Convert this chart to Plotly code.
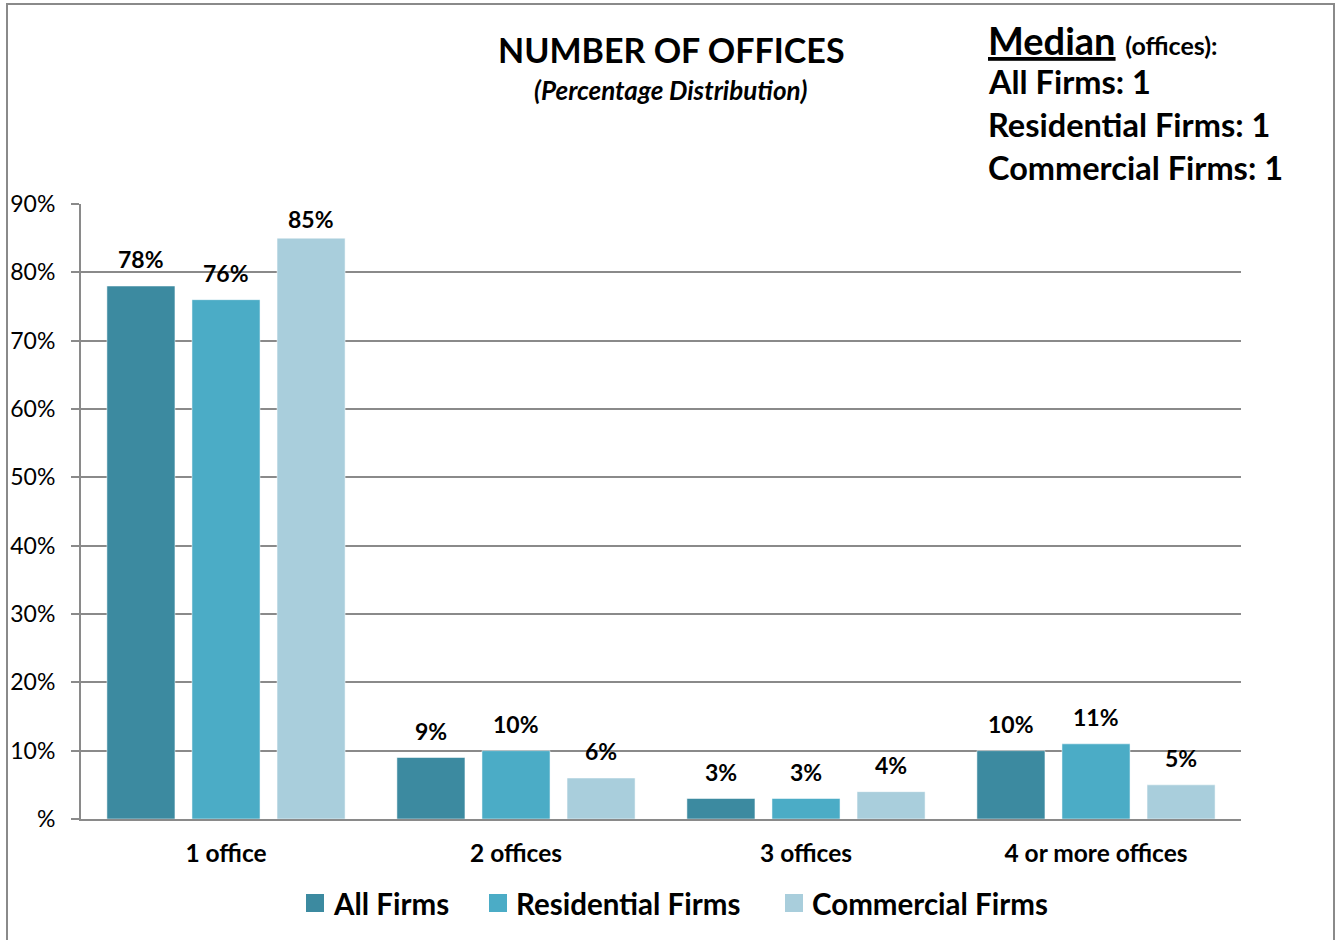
import plotly.graph_objects as go

# Share of firms by number of offices (percent)
categories = ["1 office", "2 offices", "3 offices", "4 or more offices"]
all_firms = [78, 9, 3, 10]
residential_firms = [76, 10, 3, 11]
commercial_firms = [85, 6, 4, 5]

series_names = ["All Firms", "Residential Firms", "Commercial Firms"]
series_values = [all_firms, residential_firms, commercial_firms]
series_colors = ["#3C8AA0", "#4BACC6", "#A9CEDC"]

y_tick_values = [0, 10, 20, 30, 40, 50, 60, 70, 80, 90]
y_tick_labels = ["%", "10%", "20%", "30%", "40%", "50%", "60%", "70%", "80%", "90%"]

median_lines = ["All Firms: 1", "Residential Firms: 1", "Commercial Firms: 1"]

FONT = "Lato"
W, H = 1336, 940
M_L, M_R, M_T, M_B = 81, 95, 204, 121
plot_w = W - M_L - M_R
plot_h = H - M_T - M_B
Y_MAX = 90
BAR_STEP = 85          # pixel distance between bar centres inside a group
LABEL_GAP = 27         # label centre above bar top, in pixels
LABEL_MIN_TOP = 15     # keep labels at least this far below the plot top


def px_x(x):
    return (x - M_L) / plot_w


def px_y(y):
    return (H - M_B - y) / plot_h


fig = go.Figure()
annotations = []
for s, (name, vals, color) in enumerate(zip(series_names, series_values, series_colors)):
    fig.add_trace(go.Bar(
        name=name,
        x=categories,
        y=vals,
        marker=dict(color=color, line=dict(color="rgba(255,255,255,0.5)", width=1)),
        showlegend=False,
    ))
    # value labels above each bar
    for cat, v in zip(categories, vals):
        top_from_plot_top = (Y_MAX - v) / Y_MAX * plot_h
        shift = min(LABEL_GAP, top_from_plot_top - LABEL_MIN_TOP)
        annotations.append(dict(
            text=f"<b>{v}%</b>", x=cat, y=v, xref="x", yref="y",
            xshift=(s - 1) * BAR_STEP, yshift=shift,
            showarrow=False, xanchor="center", yanchor="middle",
            font=dict(family=FONT, size=23, color="black")))

annotations += [
    dict(text="<b>NUMBER OF OFFICES</b>", x=px_x(671), y=px_y(50), xref="paper", yref="paper",
         showarrow=False, xanchor="center", yanchor="middle",
         font=dict(family=FONT, size=34, color="black")),
    dict(text="<b><i>(Percentage Distribution)</i></b>", x=px_x(671), y=px_y(90), xref="paper", yref="paper",
         showarrow=False, xanchor="center", yanchor="middle",
         font=dict(family=FONT, size=26, color="black")),
    dict(text="<b><u>Median</u></b> <b><span style='font-size:25px'>(offices):</span></b>",
         x=px_x(986), y=px_y(40), xref="paper", yref="paper",
         showarrow=False, xanchor="left", yanchor="middle",
         font=dict(family=FONT, size=38, color="black")),
]
for i, line in enumerate(median_lines):
    annotations.append(dict(
        text=f"<b>{line}</b>", x=px_x(986), y=px_y(82 + 42.5 * i), xref="paper", yref="paper",
        showarrow=False, xanchor="left", yanchor="middle",
        font=dict(family=FONT, size=32.5, color="black")))

# Outer frame of the chart
shapes = [dict(type="rect", xref="paper", yref="paper",
               x0=px_x(7), x1=px_x(1334), y0=px_y(960), y1=px_y(4),
               line=dict(color="#8a8a8a", width=2), fillcolor="rgba(0,0,0,0)", layer="below")]

# Legend row below the category labels: colour swatch + series name
legend_swatch_x = [306, 489, 785]
legend_text_x = [331, 514, 810]
legend_y = 903
for name, color, sx, tx in zip(series_names, series_colors, legend_swatch_x, legend_text_x):
    shapes.append(dict(type="rect", xref="paper", yref="paper",
                       x0=px_x(sx), x1=px_x(sx + 18), y0=px_y(legend_y + 9), y1=px_y(legend_y - 9),
                       line=dict(width=0), fillcolor=color))
    annotations.append(dict(
        text=f"<b>{name}</b>", x=px_x(tx), y=px_y(legend_y), xref="paper", yref="paper",
        showarrow=False, xanchor="left", yanchor="middle",
        font=dict(family=FONT, size=29.5, color="black")))

fig.update_layout(
    width=W, height=H,
    margin=dict(l=M_L, r=M_R, t=M_T, b=M_B, pad=0, autoexpand=False),
    paper_bgcolor="white", plot_bgcolor="white",
    barmode="group", bargap=0.12, bargroupgap=0.2,
    font=dict(family=FONT, color="black"),
    showlegend=False,
    annotations=annotations,
    shapes=shapes,
)
fig.update_xaxes(
    automargin=False,
    showline=True, linecolor="#8a8a8a", linewidth=2,
    ticks="", showgrid=False,
    tickfont=dict(family=FONT, size=24.5, color="black"),
    tickvals=categories, ticktext=[f"<b>{c}</b>" for c in categories],
    ticklabelstandoff=12,
)
fig.update_yaxes(
    automargin=False,
    range=[0, Y_MAX], tickvals=y_tick_values, ticktext=y_tick_labels,
    showline=True, linecolor="#8a8a8a", linewidth=2,
    ticks="outside", ticklen=8, tickcolor="#8a8a8a", tickwidth=2,
    showgrid=True, gridcolor="#8a8a8a", gridwidth=1.5,
    zeroline=False,
    tickfont=dict(family=FONT, size=23, color="black"),
    ticklabelstandoff=11,
)

fig.write_html("out.html")
